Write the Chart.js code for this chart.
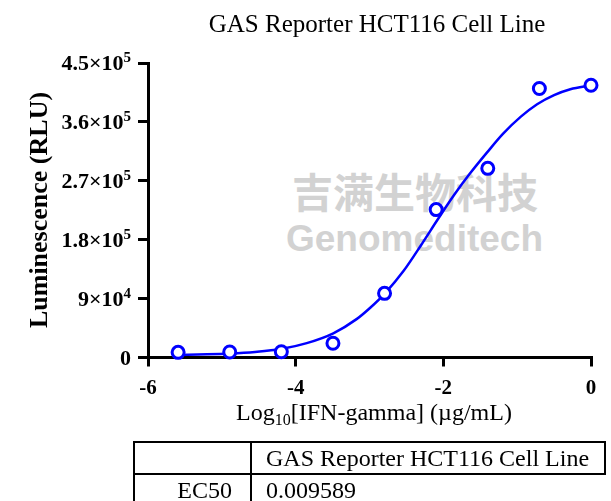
<!DOCTYPE html>
<html>
<head>
<meta charset="utf-8">
<script src="https://cdn.jsdelivr.net/npm/chart.js@4.4.1/dist/chart.umd.min.js"></script>
<style>
  html, body { margin: 0; padding: 0; background: #fff; }
  #wrap { position: relative; width: 611px; height: 501px; overflow: hidden; }
  #chart { position: absolute; left: 0; top: 0; z-index: 1; }
  .wm { position: absolute; z-index: 0; color: #d2d2d2; white-space: nowrap; }
  #wm1 { left: 292px; top: 160px; font: bold 41px "Noto Sans CJK SC", sans-serif; }
  #wm2 { left: 286px; top: 218px; font: bold 37px "Liberation Sans", Arial, sans-serif; }
  table { position: absolute; left: 133px; top: 441px; z-index: 2; border-collapse: collapse;
          font: 24px "Liberation Serif", "Times New Roman", serif; color: #000; }
  td { border: 2px solid #000; height: 30px; padding: 0 15px 0 14px; line-height: 29px; white-space: nowrap; }
  td.lab { width: 82px; text-align: right; padding: 0 18px 0 15px; }
  td.open { border-right: none; }
</style>
</head>
<body>
<div id="wrap">
  <div class="wm" id="wm1">吉满生物科技</div>
  <div class="wm" id="wm2">Genomeditech</div>
  <canvas id="chart" width="611" height="501"></canvas>
  <table>
    <tr><td class="lab"></td><td>GAS Reporter HCT116 Cell Line</td></tr>
    <tr><td class="lab">EC50</td><td class="open">0.009589</td></tr>
  </table>
</div>
<script>
// measured points: log10 dose (ug/mL) vs luminescence
const doseLog = [-5.592, -4.893, -4.194, -3.495, -2.796, -2.097, -1.398, -0.699, 0];
const rlu = [7900, 8400, 8850, 21700, 98000, 226000, 289000, 411000, 416000];

// fitted curve
const fitX = [-5.59, -5.2, -4.89, -4.55, -4.2, -3.85, -3.49, -3.17, -2.99, -2.79, -2.54, -2.3, -2.07, -1.85, -1.64, -1.41, -1.19, -0.95, -0.73, -0.5, -0.28, 0];
const fitY = [4000, 4800, 6000, 8500, 13000, 22000, 37000, 59000, 76000, 98000, 132000, 172000, 212000, 249000, 281000, 313000, 342000, 368000, 387000, 401000, 410000, 416000];

const xTicks = [-6, -4, -2, 0];
// y tick labels: base text and exponent
const yTickBase = ['0', '9×10', '1.8×10', '2.7×10', '3.6×10', '4.5×10'];
const yTickExp = ['', '4', '5', '5', '5', '5'];

const chartTitle = 'GAS Reporter HCT116 Cell Line';
const yTitle = 'Luminescence (RLU)';

const serif = '"Liberation Serif", "Times New Roman", serif';

const textPlugin = {
    id: 'texts',
    afterDraw(chart) {
        const ctx = chart.ctx;
        ctx.save();
        ctx.fillStyle = '#000';
        // title
        ctx.font = '25px ' + serif;
        ctx.textAlign = 'center';
        ctx.textBaseline = 'alphabetic';
        ctx.fillText(chartTitle, 377, 32);

        // y title
        ctx.save();
        ctx.translate(47, 210);
        ctx.rotate(-Math.PI / 2);
        ctx.font = 'bold 26px ' + serif;
        ctx.fillText(yTitle, 0, 0);
        ctx.restore();

        // x title with subscript
        const parts = [['Log', 24, 0], ['10', 16, 5], ['[IFN-gamma] (µg/mL)', 24, 0]];
        let total = 0;
        parts.forEach(p => { ctx.font = p[1] + 'px ' + serif; total += ctx.measureText(p[0]).width; });
        let x = 374 - total / 2;
        ctx.textAlign = 'left';
        parts.forEach(p => {
            ctx.font = p[1] + 'px ' + serif;
            ctx.fillText(p[0], x, 420 + p[2]);
            x += ctx.measureText(p[0]).width;
        });

        // y tick labels with superscript exponents
        const ys = chart.scales.y;
        ctx.textAlign = 'right';
        ys.ticks.forEach((t, i) => {
            const py = ys.getPixelForValue(t.value);
            const right = 131;
            ctx.font = 'bold 15px ' + serif;
            const ew = yTickExp[i] ? ctx.measureText(yTickExp[i]).width : 0;
            ctx.fillText(yTickExp[i], right, py - 1);
            ctx.font = 'bold 22px ' + serif;
            ctx.fillText(yTickBase[i], right - ew, py + 7);
        });
        ctx.restore();
    }
};

const ctx = document.getElementById('chart');

new Chart(ctx, {
    data: {
        datasets: [
            {
                type: 'scatter',
                data: doseLog.map((d, i) => ({x: d, y: rlu[i]})),
                showLine: false,
                pointRadius: 6,
                pointBorderWidth: 3,
                pointBorderColor: '#0000ff',
                pointBackgroundColor: '#ffffff',
                clip: false,
                order: 0
            },
            {
                type: 'line',
                data: fitX.map((d, i) => ({x: d, y: fitY[i]})),
                borderColor: '#0000ff',
                borderWidth: 2.5,
                pointRadius: 0,
                cubicInterpolationMode: 'monotone',
                fill: false,
                clip: false,
                order: 1
            }
        ]
    },
    options: {
        responsive: false,
        animation: false,
        layout: { padding: { left: 0, right: 20, top: 63, bottom: 98.5 } },
        plugins: { legend: { display: false }, tooltip: { enabled: false } },
        scales: {
            x: {
                type: 'linear',
                min: -6,
                max: 0,
                afterFit: s => { s.height = 45; },
                afterBuildTicks: s => { s.ticks = xTicks.map(v => ({value: v})); },
                border: { color: '#000', width: 3 },
                grid: { drawOnChartArea: false, drawTicks: true, tickLength: 9, lineWidth: 3, color: '#000' },
                ticks: {
                    color: '#000',
                    padding: 9,
                    maxRotation: 0,
                    font: { family: serif, size: 21, weight: 'bold' },
                    callback: v => String(v)
                }
            },
            y: {
                min: 0,
                max: 450000,
                afterFit: s => { s.width = 148; },
                border: { color: '#000', width: 3 },
                grid: { drawOnChartArea: false, drawTicks: true, tickLength: 10, lineWidth: 3, color: '#000' },
                ticks: {
                    stepSize: 90000,
                    display: false
                }
            }
        }
    },
    plugins: [textPlugin]
});
</script>
</body>
</html>
